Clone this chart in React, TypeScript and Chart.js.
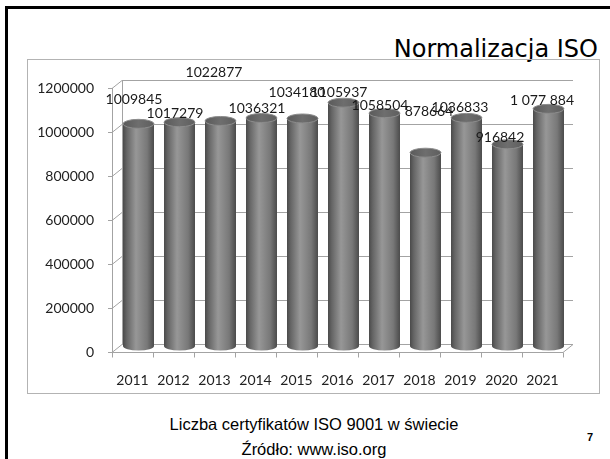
import React, { useEffect, useRef } from "react";
import { Chart, registerables } from "chart.js";

Chart.register(...registerables);

// ---- data ----
const years = ["2011", "2012", "2013", "2014", "2015", "2016", "2017", "2018", "2019", "2020", "2021"];
const certificates = [1009845, 1017279, 1022877, 1036321, 1034180, 1105937, 1058504, 878664, 1036833, 916842, 1077884];
const valueLabels = ["1009845", "1017279", "1022877", "1036321", "1034180", "1105937", "1058504", "878664", "1036833", "916842", "1 077 884"];
const yTickValues = [0, 200000, 400000, 600000, 800000, 1000000, 1200000];

const titleText = "Normalizacja ISO";
const captionLine1 = "Liczba certyfikatów ISO 9001 w świecie";
const captionLine2 = "Źródło: www.iso.org";
const pageNumber = "7";

// ---- styling (label placement, 3D look) ----
const labelOffsets: [number, number][] = [
  [-4.5, -30], [-4.5, -15], [-6.5, -54], [-4.5, -16], [-5.5, -32], [-4.5, -16],
  [-4.5, -14], [3.5, -47], [-6.5, -16], [-7.5, -13], [-6.5, -14],
];
const MID = { dx: 6, dy: -6 };
const BACK = { dx: 10, dy: -8 };
const GRID = "#a3a3a3";

function drawCylinder(ctx: CanvasRenderingContext2D, cx: number, topY: number, baseY: number, w: number) {
  const rx = w / 2;
  const ry = 4.5;
  const g = ctx.createLinearGradient(cx - rx, 0, cx + rx, 0);
  g.addColorStop(0, "#4a4a4a");
  g.addColorStop(0.12, "#656565");
  g.addColorStop(0.42, "#979797");
  g.addColorStop(0.78, "#787878");
  g.addColorStop(1, "#4b4b4b");
  ctx.save();
  ctx.beginPath();
  ctx.moveTo(cx - rx, topY);
  ctx.lineTo(cx - rx, baseY);
  ctx.ellipse(cx, baseY, rx, ry, 0, Math.PI, 0, true);
  ctx.lineTo(cx + rx, topY);
  ctx.closePath();
  ctx.fillStyle = g;
  ctx.fill();
  const gt = ctx.createLinearGradient(cx - rx, 0, cx + rx, 0);
  gt.addColorStop(0, "#5a5a5a");
  gt.addColorStop(0.5, "#6e6e6e");
  gt.addColorStop(1, "#5e5e5e");
  ctx.beginPath();
  ctx.ellipse(cx, topY, rx, ry, 0, 0, Math.PI * 2);
  ctx.fillStyle = gt;
  ctx.fill();
  ctx.lineWidth = 1;
  ctx.strokeStyle = "#8c8c8c";
  ctx.stroke();
  ctx.restore();
}

const scene3d = {
  id: "scene3d",
  beforeDatasetsDraw(chart: any) {
    const ctx: CanvasRenderingContext2D = chart.ctx;
    const { left, right, top, bottom } = chart.chartArea;
    const y = chart.scales.y;
    ctx.save();
    ctx.strokeStyle = GRID;
    ctx.lineWidth = 1;
    yTickValues.forEach((v) => {
      const py = Math.round(y.getPixelForValue(v)) + 0.5;
      ctx.beginPath();
      ctx.moveTo(left, py);
      ctx.lineTo(left + BACK.dx, py + BACK.dy);
      ctx.lineTo(right + BACK.dx, py + BACK.dy);
      ctx.stroke();
      ctx.beginPath();
      ctx.moveTo(left - 4, py);
      ctx.lineTo(left, py);
      ctx.stroke();
    });
    ctx.beginPath();
    ctx.moveTo(left + BACK.dx + 0.5, bottom + BACK.dy);
    ctx.lineTo(left + BACK.dx + 0.5, top + BACK.dy);
    ctx.stroke();
    ctx.beginPath();
    ctx.moveTo(left + 0.5, bottom);
    ctx.lineTo(left + 0.5, top);
    ctx.stroke();
    const by = Math.round(bottom) + 0.5;
    ctx.beginPath();
    ctx.moveTo(left, by);
    ctx.lineTo(right, by);
    ctx.lineTo(right + BACK.dx, by + BACK.dy);
    ctx.stroke();
    const n = years.length;
    const step = (right - left) / n;
    for (let i = 0; i <= n; i++) {
      const px = Math.round(left + i * step) + 0.5;
      ctx.beginPath();
      ctx.moveTo(px, by);
      ctx.lineTo(px, by + 5);
      ctx.stroke();
    }
    ctx.restore();
  },
  afterDatasetsDraw(chart: any) {
    const ctx: CanvasRenderingContext2D = chart.ctx;
    const meta = chart.getDatasetMeta(0);
    meta.data.forEach((el: any) => {
      drawCylinder(ctx, el.x + MID.dx, el.y + MID.dy, el.base + MID.dy, el.width);
    });
    ctx.save();
    ctx.font = "14px Lato";
    ctx.fillStyle = "#1a1a1a";
    ctx.textAlign = "center";
    ctx.textBaseline = "middle";
    meta.data.forEach((el: any, i: number) => {
      const [dx, dy] = labelOffsets[i];
      ctx.fillText(valueLabels[i], el.x + MID.dx + dx, el.y + dy);
    });
    ctx.restore();
  },
};

function ChartBox() {
  const ref = useRef<HTMLCanvasElement | null>(null);
  useEffect(() => {
    if (!ref.current) return;
    const chart = new Chart(ref.current, {
      type: "bar",
      data: {
        labels: years,
        datasets: [
          {
            data: certificates,
            backgroundColor: "rgba(0,0,0,0)",
            borderWidth: 0,
            barPercentage: 0.756,
            categoryPercentage: 1,
          },
        ],
      },
      options: {
        responsive: false,
        animation: false,
        events: [],
        layout: { padding: { left: 0, right: 36, top: 28, bottom: 0 } },
        plugins: { legend: { display: false }, tooltip: { enabled: false }, title: { display: false } },
        scales: {
          x: {
            grid: { display: false },
            border: { display: false },
            ticks: { font: { family: "Lato", size: 14 }, color: "#222", padding: 12, maxRotation: 0 },
            afterFit: (s: any) => { s.height = 41; },
          },
          y: {
            min: 0,
            max: 1200000,
            grid: { display: false },
            border: { display: false },
            ticks: {
              stepSize: 200000,
              font: { family: "Lato", size: 14 },
              color: "#222",
              padding: 10,
              callback: (v: any) => String(v),
            },
            afterFit: (s: any) => { s.width = 84; },
          },
        },
      },
      plugins: [scene3d],
    });
    if ((document as any).fonts && (document as any).fonts.ready) {
      (document as any).fonts.ready.then(() => chart.update());
    }
    return () => chart.destroy();
  }, []);
  return <canvas ref={ref} width={571} height={333} style={{ display: "block", width: 571, height: 333 }} />;
}

export default function App() {
  return (
    <div style={{ position: "absolute", left: 0, top: 0, width: 610, height: 459, background: "#fff", overflow: "hidden" }}>
      <div style={{ position: "absolute", left: 5, top: 6, width: 620, height: 470, borderLeft: "3px solid #000", borderTop: "3px solid #000" }} />
      <div style={{ position: "absolute", right: 12, top: 37, fontFamily: "'DejaVu Sans'", fontSize: 24, lineHeight: "24px", color: "#000", whiteSpace: "nowrap" }}>
        {titleText}
      </div>
      <div style={{ position: "absolute", left: 27, top: 59, width: 571, height: 333, border: "1px solid #b3b3b3" }}>
        <ChartBox />
      </div>
      <div style={{ position: "absolute", left: 14, width: 600, top: 412, textAlign: "center", fontFamily: "'Liberation Sans', Arial, sans-serif", fontSize: 16.5, lineHeight: "25px", color: "#000" }}>
        <div>{captionLine1}</div>
        <div>{captionLine2}</div>
      </div>
      <div style={{ position: "absolute", left: 587, top: 431, fontFamily: "'Liberation Sans', Arial, sans-serif", fontSize: 11, fontWeight: "bold", color: "#000" }}>
        {pageNumber}
      </div>
    </div>
  );
}
